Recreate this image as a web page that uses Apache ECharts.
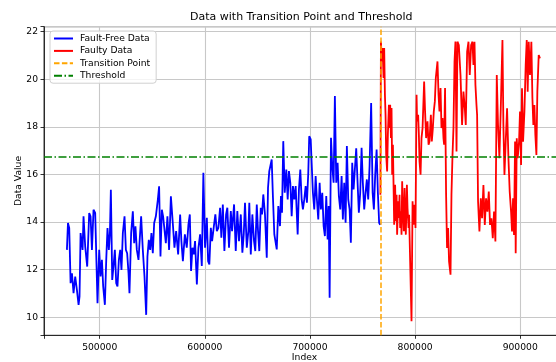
<!DOCTYPE html>
<html>
<head>
<meta charset="utf-8">
<script src="https://cdn.jsdelivr.net/npm/echarts@6/dist/echarts.min.js"></script>
<style>
  html, body { margin: 0; padding: 0; background: #fff; overflow: hidden; }
  #main { width: 572px; height: 362px; }
</style>
</head>
<body>
<div id="main"></div>
<script>
// 数据
const blueIndex = [468800,469800,471000,472300,473600,475100,476700,478300,479900,480800,
  481800,483700,484600,486200,488100,490000,491300,492600,494100,495700,
  497000,497900,499500,500800,502100,503300,504900,506200,507400,508700,
  509700,510600,511900,513100,514400,515700,516900,518200,519500,520700,
  522000,523600,524900,526100,527400,528300,529900,531500,532800,534000,
  535300,536900,539400,541000,542600,544200,545400,546700,548000,549200,
  550500,551800,553400,555300,556500,557800,559100,560300,561600,562900,
  564400,566000,567700,569600,571100,572700,574600,576500,577700,579100,
  581000,582800,584400,585700,586900,588200,589500,590700,592400,593900,
  595500,597100,598600,600200,601900,603100,604300,605700,606900,608800,
  610000,611400,612900,614500,615700,617100,618600,620200,621400,623000,
  624700,625900,627800,629400,630900,632500,634200,635700,637000,638200,
  639900,641400,642300,643700,645200,646800,648000,649400,650600,651800,
  653200,654400,655600,657200,658900,660100,661300,663600,664800,666100,
  668400,669900,671500,672400,673400,674600,676000,677500,678800,680000,
  681300,682600,683800,685100,686400,688300,689500,690800,692100,693300,
  694600,695900,697100,698400,699300,700700,701600,702800,704100,705400,
  706600,707900,709200,710400,711700,713000,714200,715500,716800,717800,
  718700,720000,721200,722500,723700,725000,726300,727500,728800,730100,
  731300,732600,733900,735100,736400,737700,738900,740200,741500,742700,
  744000,745300,746500,747800,749100,750300,751600,752900,754100,755400,
  756700,758200,759600,760800,762000,763400,764600,765800,766800];
const blueValue = [12.83,13.96,13.75,11.43,11.85,11.01,11.71,11.15,10.52,10.87,
  13.54,12.83,14.24,12.97,12.13,14.38,14.24,12.83,14.52,14.38,
  12.13,10.59,12.83,11.71,12.41,11.29,10.52,12.41,13.75,12.83,
  13.54,15.36,11.57,12.13,12.83,11.43,11.29,12.41,12.83,11.99,
  13.54,14.24,12.83,12.69,11.85,11.01,13.54,14.45,13.11,13.82,
  12.83,12.41,14.24,12.83,11.71,10.10,12.55,13.25,12.83,13.54,
  12.69,13.96,14.24,14.94,15.50,12.55,14.52,14.24,13.68,13.11,
  14.24,12.83,15.08,13.90,12.92,13.62,12.64,14.32,13.20,12.36,
  13.48,12.92,13.90,14.32,11.94,12.92,12.64,13.20,11.38,12.92,
  13.48,12.15,16.07,12.92,14.18,12.36,12.22,13.76,13.20,13.90,
  14.32,13.62,13.76,14.60,13.34,14.74,12.78,14.32,14.60,12.92,
  14.46,13.62,14.74,12.78,14.46,13.20,14.32,12.71,13.48,14.81,
  12.92,13.62,14.81,12.64,14.32,13.20,12.78,14.74,13.62,12.78,
  14.60,14.32,15.16,14.32,12.50,15.44,16.14,16.63,15.02,13.48,
  12.85,14.67,13.83,15.09,14.39,17.40,15.23,16.21,14.95,16.14,
  15.65,14.25,15.51,14.95,15.51,13.48,15.37,16.21,14.95,14.53,
  14.95,15.51,14.81,16.07,17.61,17.47,16.49,15.23,14.53,15.93,
  14.95,14.11,15.65,14.53,15.23,13.83,13.41,15.09,13.27,14.67,
  10.82,17.54,16.35,15.65,19.30,15.65,16.49,15.09,14.53,15.93,
  14.11,15.65,13.97,17.20,14.95,14.53,13.13,16.49,15.37,16.21,
  17.10,15.65,14.39,15.23,17.12,15.65,14.53,15.23,15.79,14.95,
  16.35,19.00,15.23,14.53,15.93,17.05,15.23,13.97,13.88];

const redIndex = [767000,767500,768400,769100,770000,770600,771300,771900,772500,773400,
  774100,775100,775700,776300,777000,777600,778200,778900,779500,780100,
  781000,781700,782400,782900,783900,784600,785200,785800,786500,787100,
  787700,788400,789300,790000,790500,791200,792200,792800,793800,794300,
  795300,796600,797600,798500,799500,800400,801400,801900,802900,803600,
  804200,805200,806100,807100,808600,809500,810500,811800,812800,813700,
  815000,815900,816900,817800,818800,819700,821300,822300,823200,824200,
  825100,826100,827000,827600,828500,829500,830400,831400,832300,833700,
  834600,835600,836500,837500,838400,839400,840300,841600,843200,844700,
  846000,847300,848200,849500,850800,852000,853300,854600,855500,856500,
  857400,858400,859000,859900,861200,862500,863700,865000,866300,867500,
  868800,870100,871300,872600,873900,875100,876400,877700,878900,880200,
  881500,883100,884000,885000,886200,887500,888800,890000,891300,892200,
  893200,894100,895100,895700,896700,897600,898900,899800,900800,901700,
  902700,904000,905200,906200,907100,908100,909300,910600,911600,912500,
  913500,914400,915400,916300,917600,918800];
const redValue = [15.15,21.59,20.75,21.31,20.05,21.31,19.35,18.51,16.83,16.13,
  17.67,18.93,17.95,18.93,17.53,18.79,15.99,17.25,15.57,13.89,
  15.57,14.03,15.15,13.47,14.87,14.17,15.15,13.75,14.45,13.47,
  15.71,14.59,13.61,15.43,14.31,13.47,15.57,14.59,13.75,14.31,
  12.35,9.83,14.87,13.89,14.73,13.75,19.35,18.23,18.51,17.67,
  16.55,15.99,17.53,17.95,19.91,18.65,17.53,18.23,17.25,17.39,
  18.51,17.39,17.95,18.65,19.07,20.05,20.75,19.35,18.65,19.63,
  17.95,18.37,17.53,17.25,19.63,15.15,12.91,13.75,12.35,11.79,
  15.15,16.83,17.95,20.75,21.59,16.96,21.58,21.44,20.18,18.08,
  19.48,18.78,18.08,21.16,21.58,20.18,21.44,21.58,20.60,21.58,
  19.76,18.92,18.50,14.86,13.60,15.00,14.16,15.56,13.88,15.00,
  14.44,15.28,13.88,14.16,13.32,14.44,13.18,20.18,18.08,16.68,
  18.78,21.65,18.08,15.98,17.38,18.78,16.68,15.28,14.44,13.60,
  15.00,13.46,17.38,12.69,17.52,16.68,17.38,18.64,16.40,19.62,
  17.38,18.64,20.60,21.65,19.48,21.58,20.18,21.58,19.20,18.08,
  18.92,17.66,16.82,19.48,21.02,20.88];

const transitionIndex = 767000;
const thresholdValue = 16.74;
const xTicks = [500000, 600000, 700000, 800000, 900000];
const yTicks = [10, 12, 14, 16, 18, 20, 22];

const font = 'DejaVu Sans';
var myChart = echarts.init(document.getElementById('main'));

myChart.setOption({
  animation: false,
  backgroundColor: '#fff',
  title: {
    text: 'Data with Transition Point and Threshold',
    left: 190, top: 11.5, padding: 0,
    textStyle: { fontFamily: font, fontSize: 11, fontWeight: 'normal', color: '#000' }
  },
  legend: {
    orient: 'vertical',
    left: 50, top: 31,
    padding: [3, 6, 3, 3],
    itemWidth: 19, itemHeight: 10, itemGap: 3.4,
    backgroundColor: 'rgba(255,255,255,0.8)',
    borderColor: '#d0d0d0', borderWidth: 1, borderRadius: 3,
    itemStyle: { opacity: 0 },   // hide the round marker, keep the line
    textStyle: { fontFamily: font, fontSize: 9.2, color: '#000', padding: [0, 0, 0, 2] },
    data: ['Fault-Free Data', 'Faulty Data', 'Transition Point', 'Threshold']
  },
  grid: {
    left: 44, top: 26.7, width: 521, height: 308.6,
    outerBoundsMode: 'none', containLabel: false,
    show: true, borderColor: '#000', borderWidth: 0.8
  },
  xAxis: {
    type: 'value',
    min: 447000, max: 942600,
    minInterval: 100000, maxInterval: 100000,
    name: 'Index', nameLocation: 'middle', nameGap: 18, nameMoveOverlap: false,
    nameTextStyle: { fontFamily: font, fontSize: 9.2, color: '#000' },
    axisLine: { show: true, lineStyle: { color: '#000', width: 0.8 } },
    axisTick: { show: true, length: 3.5, lineStyle: { color: '#000', width: 0.8 } },
    axisLabel: {
      fontFamily: font, fontSize: 9.2, color: '#000', margin: 7.5,
      formatter: v => xTicks.includes(v) ? String(v) : ''
    },
    splitLine: { show: true, lineStyle: { color: '#c8c8c8', width: 1.1 } }
  },
  yAxis: {
    type: 'value',
    min: 9.24, max: 22.21,
    minInterval: 2, maxInterval: 2,
    name: 'Data Value', nameLocation: 'middle', nameGap: 21, nameMoveOverlap: false,
    nameTextStyle: { fontFamily: font, fontSize: 9.2, color: '#000' },
    axisLine: { show: true, lineStyle: { color: '#000', width: 0.8 } },
    axisTick: { show: true, length: 3.5, lineStyle: { color: '#000', width: 0.8 } },
    axisLabel: {
      fontFamily: font, fontSize: 9.2, color: '#000', margin: 6,
      formatter: v => yTicks.includes(Math.round(v * 1000) / 1000) ? String(Math.round(v)) : ''
    },
    splitLine: { show: true, lineStyle: { color: '#c8c8c8', width: 1.1 } }
  },
  series: [
    {
      name: 'Fault-Free Data', type: 'line', symbol: 'none', color: '#0000ff',
      lineStyle: { width: 1.8, color: '#0000ff' },
      data: blueIndex.map((x, i) => [x, blueValue[i]])
    },
    {
      name: 'Faulty Data', type: 'line', symbol: 'none', color: '#ff0000',
      lineStyle: { width: 1.8, color: '#ff0000' },
      data: redIndex.map((x, i) => [x, redValue[i]])
    },
    {
      name: 'Transition Point', type: 'line', symbol: 'none', color: '#ffa500',
      lineStyle: { width: 1.5, color: '#ffa500', type: [5.5, 2.4] },
      data: [],
      markLine: {
        silent: true, symbol: 'none', label: { show: false },
        lineStyle: { color: '#ffa500', width: 1.5, type: [5.5, 2.4] },
        data: [{ xAxis: transitionIndex }]
      }
    },
    {
      name: 'Threshold', type: 'line', symbol: 'none', color: '#008000',
      lineStyle: { width: 1.5, color: '#008000', type: [8, 2.5, 1.5, 2.5] },
      data: [],
      markLine: {
        silent: true, symbol: 'none', label: { show: false },
        lineStyle: { color: '#008000', width: 1.5, type: [8, 2.5, 1.5, 2.5] },
        data: [{ yAxis: thresholdValue }]
      }
    }
  ]
});
</script>
</body>
</html>
